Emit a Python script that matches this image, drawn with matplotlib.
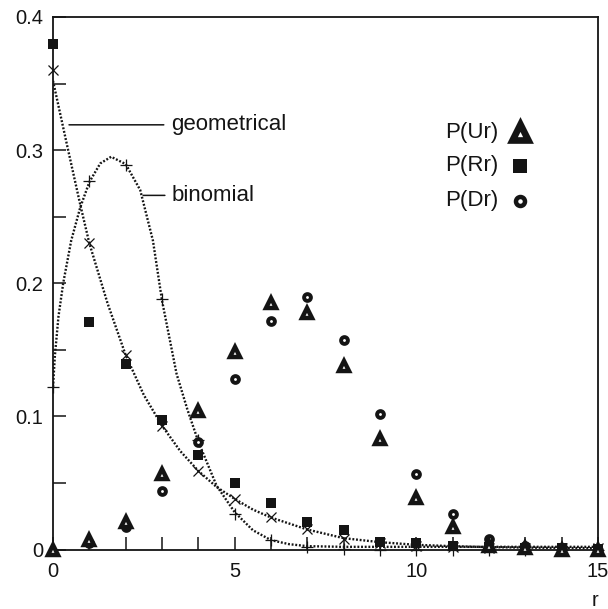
import numpy as np
import matplotlib.pyplot as plt
from matplotlib.ticker import MultipleLocator, FixedLocator

plt.rcParams['font.family'] = ['Liberation Sans', 'DejaVu Sans']

# r values
r = np.arange(0, 16)

# simulated probabilities
p_ur = [0.0, 0.007, 0.021, 0.057, 0.104, 0.148, 0.185, 0.178, 0.138, 0.083,
        0.039, 0.017, 0.003, 0.001, 0.0, 0.0]
p_rr = [0.380, 0.171, 0.139, 0.097, 0.071, 0.050, 0.035, 0.021, 0.015, 0.006,
        0.005, 0.0025, 0.002, 0.001, 0.001, 0.0005]
p_dr = [np.nan, 0.005, 0.017, 0.044, 0.081, 0.128, 0.172, 0.190, 0.157, 0.102,
        0.057, 0.027, 0.008, 0.003, 0.001, 0.0]

# model points
geo_pts = [0.360, 0.230, 0.146, 0.093, 0.059, 0.038, 0.0245, 0.0152, 0.0078,
           0.005, 0.003, 0.002, 0.0015, 0.001, 0.001, 0.001]
bin_pts = [0.122, 0.277, 0.289, 0.188, 0.082, 0.027, 0.007, 0.002, 0.0003,
           0.0, 0.0, 0.0, 0.0, 0.0, 0.0, 0.0]

# dotted model curves
geo_cx = [0, 0.4, 0.75, 1.0, 1.5, 2.0, 2.5, 3.0, 3.5, 4.0, 4.5, 5.0, 5.5, 6.0,
          7.0, 8.0, 9.0, 10.0, 11.0, 12.0, 13.0, 14.0, 15.0]
geo_cy = [0.352, 0.302, 0.259, 0.230, 0.185, 0.146, 0.116, 0.093, 0.074, 0.059,
          0.047, 0.038, 0.030, 0.024, 0.015, 0.0085, 0.0055, 0.0035, 0.0025,
          0.0018, 0.0014, 0.0012, 0.001]
bin_cx = [0, 0.05, 0.15, 0.28, 0.5, 0.75, 1.0, 1.3, 1.6, 2.0, 2.4, 2.75, 3.0,
          3.4, 3.7, 4.0, 4.5, 5.0, 5.5, 6.0, 6.5, 7.0, 8.0, 10.0, 12.0, 15.0]
bin_cy = [0.122, 0.145, 0.175, 0.200, 0.232, 0.257, 0.276, 0.290, 0.295, 0.2895,
          0.270, 0.232, 0.187, 0.132, 0.105, 0.081, 0.048, 0.028, 0.0145, 0.007,
          0.004, 0.0025, 0.002, 0.002, 0.002, 0.002]

y_ticks = [0, 0.1, 0.2, 0.3, 0.4]
y_labels = ['0', '0.1', '0.2', '0.3', '0.4']
x_ticks = [0, 5, 10, 15]

ink = '#141414'
dots = (0, (0.8, 0.75))

fig = plt.figure(figsize=(6.08, 6.09), dpi=100)
ax = fig.add_axes([0.0872, 0.0977, 0.8964, 0.8744])

ax.plot(geo_cx, geo_cy, color=ink, lw=1.7, linestyle=dots, zorder=2)
ax.plot(bin_cx, bin_cy, color=ink, lw=1.7, linestyle=dots, zorder=2)

ax.plot(r, geo_pts, ls='none', marker='x', ms=6.5, mew=0.9, color=ink,
        clip_on=False, zorder=3)
ax.plot(r, bin_pts, ls='none', marker='+', ms=8, mew=0.9, color=ink,
        clip_on=False, zorder=3)
ax.plot(r, p_rr, ls='none', marker='s', ms=6.6, mew=0, color=ink,
        clip_on=False, zorder=4)
ax.plot(r, p_dr, ls='none', marker='o', ms=4.9, mew=2.8, mfc='white',
        mec=ink, clip_on=False, zorder=5)
ax.plot(r, p_ur, ls='none', marker='^', ms=7.8, mew=3.2, mfc='white',
        mec=ink, clip_on=False, zorder=6)

# annotations for the model curves
for label, xy, xt in [('geometrical', (0.44, 0.319), (3.24, 0.319)),
                      ('binomial', (2.48, 0.266), (3.27, 0.266))]:
    ax.annotate(label, xy=xy, xytext=xt, fontsize=16, color=ink,
                va='center', ha='left',
                arrowprops=dict(arrowstyle='-', color=ink, lw=1.1,
                                relpos=(0, 0.5), shrinkA=3, shrinkB=0))

# legend on the right
legend_rows = [('P(Ur)', dict(marker='^', ms=11.8, mew=4.8, mfc='white')),
               ('P(Rr)', dict(marker='s', ms=9.4, mew=0)),
               ('P(Dr)', dict(marker='o', ms=6.5, mew=3.2, mfc='white'))]
legend_y = [0.784, 0.721, 0.655]
for (label, style), ly in zip(legend_rows, legend_y):
    ax.text(0.719, ly, label, transform=ax.transAxes, fontsize=16,
            color=ink, va='center', ha='left')
    ax.plot([0.856], [ly], transform=ax.transAxes, ls='none', color=ink,
            mec=ink, clip_on=False, **style)

ax.set_xlim(0, 15)
ax.set_ylim(0, 0.4)
ax.xaxis.set_major_locator(FixedLocator(x_ticks))
ax.xaxis.set_minor_locator(MultipleLocator(1))
ax.set_yticks(y_ticks, y_labels)
ax.yaxis.set_minor_locator(MultipleLocator(0.05))
ax.tick_params(which='both', direction='in', length=9.5, width=1.1,
               color=ink, top=False, right=False)
ax.tick_params(axis='both', labelsize=14.5, labelcolor=ink)
ax.tick_params(axis='y', pad=7)
ax.tick_params(axis='x', pad=9)
for s in ax.spines.values():
    s.set_linewidth(1.3)
    s.set_color(ink)

ax.set_xlabel('r', loc='right', fontsize=14.5, color=ink, labelpad=7)

fig.savefig('out.png', dpi=100)
